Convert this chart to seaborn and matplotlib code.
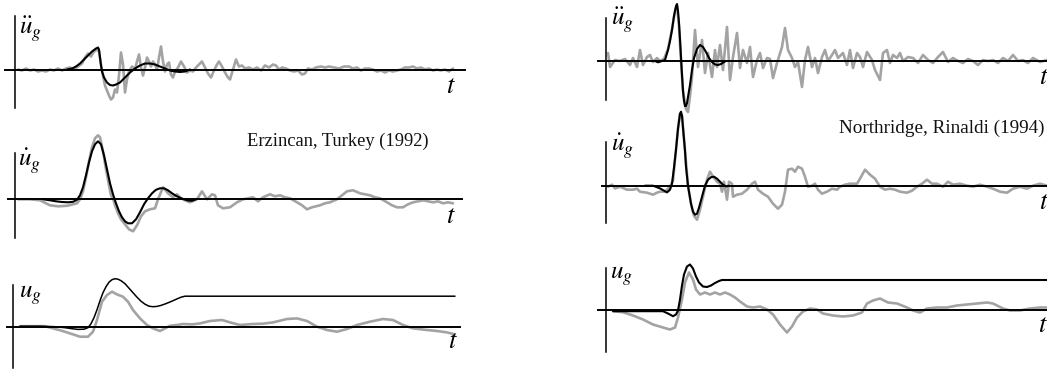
import numpy as np
import matplotlib
matplotlib.use("Agg")
import matplotlib.pyplot as plt
import seaborn as sns

# ---------------- data (time / amplitude, arbitrary units) ----------------
# Erzincan, Turkey (1992)
erz_acc_rec_t = [3, 7, 11, 15, 19, 23, 27, 31, 35, 39, 43, 47, 51, 55, 59, 63, 67, 70, 73, 76,
                 79, 82, 84, 86, 88, 90, 92, 94, 96, 98, 100, 102, 104, 106, 108, 110, 112, 114, 117, 120,
                 122, 124, 126, 128, 130, 132, 134, 136, 138, 140, 142, 144, 146, 148, 150, 152, 154, 156, 158, 160,
                 163, 166, 169, 172, 175, 178, 181, 184, 187, 190, 193, 196, 199, 202, 204, 207, 210, 213, 215, 218,
                 221, 224, 227, 230, 234, 238, 242, 246, 250, 254, 258, 261, 264, 267, 271, 275, 279, 283, 287, 290,
                 293, 297, 301, 306, 310, 314, 319, 324, 329, 334, 338, 342, 346, 350, 354, 358, 362, 366, 370, 374,
                 378, 382, 386, 390, 394, 398, 402, 406, 410, 414, 418, 422, 426, 430, 434, 438]
erz_acc_rec_v = [0, -1, 1, -1, 0, -2, -1, -2, 0, -1, 1, -1, 1, 2, 0, 3, 6, 12, 16, 13,
                 18, 20, 18, 5, -6, -16, -21, -26, -30, -28, -20, -23, -6, 17, 5, -23, -10, -2, 3, 0,
                 8, 15, 2, -6, 2, 12, 8, 3, 8, 5, 0, 12, 23, 8, -2, 5, 7, -5, -8, -2,
                 2, 8, 3, -3, -1, -2, 2, 5, 8, 2, -4, -8, -1, 5, 8, 3, -3, -8, -10, 0,
                 10, 3, 4, 1, 2, 0, 2, -1, 4, 2, 5, 4, 0, 2, 1, -1, -2, -1, -5, -4,
                 1, 0, 2, 3, 2, 3, 2, 1, 3, 3, 1, 2, -1, 1, 1, 0, -2, -1, -3, -1,
                 -2, -1, 0, 2, 2, 3, 1, 2, 0, 1, -1, 0, -1, 0, -2, 1]
erz_acc_pulse_t = [52, 57, 61, 65, 69, 73, 77, 81, 83, 84, 85, 86, 87, 89, 92, 95, 98, 101, 105, 110,
                   115, 120, 125, 130, 135, 140, 145, 150, 155, 160, 165, 170, 175]
erz_acc_pulse_v = [0, 1, 3, 6, 10, 14, 18, 21, 22, 20, 12, 4, -2, -8, -13, -15.5, -16, -15, -13, -8,
                   -3, 1, 4, 6, 6, 5, 3, 1, -1, -2, -2.5, -2, 0]

erz_vel_rec_t = [3, 15, 25, 35, 43, 52, 62, 65, 68, 71, 74, 77, 80, 83, 85, 88, 91, 94, 96, 98,
                 100, 103, 106, 110, 114, 118, 122, 126, 130, 135, 140, 143, 148, 153, 158, 162, 166, 170, 175, 182,
                 187, 192, 197, 200, 203, 208, 215, 222, 228, 233, 238, 243, 248, 255, 260, 265, 270, 275, 282, 287,
                 292, 297, 305, 310, 315, 322, 327, 332, 338, 345, 350, 355, 360, 365, 372, 377, 382, 388, 393, 398,
                 403, 408, 413, 418, 423, 428, 433, 438]
erz_vel_rec_v = [0, 0, -1, -6, -7, -6.5, -4, 0, 8, 22, 38, 52, 61, 64, 62, 48, 30, 14, 4, 1,
                 -6, -14, -20, -25, -30, -32, -26, -17, -12, -10, -9, 0, 12, 6, 2, 5, 1, -1, -3, 0,
                 8, 0, 5, 4, -6, -9, -8, -3, 0, 1, 2, -2, 2, 5, 3, 4, 2, 1, -3, -6,
                 -10, -8, -6, -4, -3, 0, 4, 8, 9, 6, 5, 4, 2, 1, -3, -6, -8, -8, -5, -3,
                 -2, -1, -2, -3, -2, -4, -3, -4]
erz_vel_pulse_t = [28, 35, 41, 47, 53, 58, 62, 65, 68, 71, 74, 77, 80, 83, 86, 89, 92, 95, 98, 101,
                   104, 107, 110, 113, 117, 121, 125, 129, 133, 137, 141, 145, 149, 153, 157, 161, 165, 169, 173, 177,
                   181]
erz_vel_pulse_v = [0, -1, -2, -2.7, -3, -2.5, -0.5, 4, 12, 24, 37, 48, 55, 58, 55, 44, 30, 16, 5, -4,
                   -12, -18, -22, -24, -24, -20, -13, -5, 1, 6, 9.5, 11, 11, 9, 6, 3.5, 1.5, 0, -1.2, -1.5,
                   0]

erz_dis_rec_t = [7, 32, 40, 47, 54, 61, 67, 75, 80, 84, 89, 94, 99, 104, 110, 115, 120, 127, 134, 140,
                 147, 152, 157, 164, 170, 179, 187, 197, 209, 217, 227, 240, 250, 260, 274, 284, 294, 304, 314, 324,
                 334, 344, 357, 370, 380, 390, 400, 414, 424, 434, 442]
erz_dis_rec_v = [0.5, 0.5, -1.7, -3.5, -5.7, -8, -10, -10, -5, 6.7, 25, 31.7, 35, 32.3, 30, 25, 16.7, 8.3, 1.7, -1.7,
                 -4.3, -1.7, 1, 1.7, 2.7, 2.3, 3.3, 5.7, 6.7, 4.3, 1.7, 2.7, 3, 4.3, 7.7, 8.3, 5.7, 0, -3.3, -5,
                 -2.3, 1.7, 5, 7.7, 6.7, 1.7, -1.7, -3.3, -4.3, -5.7, -7.7]
erz_dis_pulse_t = [7, 27, 42, 52, 59, 65, 71, 75, 78, 81, 84, 87, 90, 93, 96, 99, 102, 105, 108, 112,
                   116, 120, 124, 128, 132, 136, 140, 144, 148, 152, 156, 160, 164, 168, 172, 442]
erz_dis_pulse_v = [0.5, 0.5, 0, -1, -2, -2.7, -2.5, -1, 3, 9, 17, 26, 34, 40, 44.5, 47, 48, 47.5, 46, 43,
                   38.5, 34, 29.5, 25.5, 22.5, 20.5, 20, 20.3, 21.3, 22.7, 24.3, 26, 27.8, 29.5, 30.5, 30.5]

# Northridge, Rinaldi (1994)
nor_acc_rec_t = [2, 4, 9, 14, 19, 24, 27, 31, 34, 37, 41, 44, 47, 51, 54, 58, 62, 66, 69, 71,
                 73, 75, 77, 80, 82, 84, 86, 89, 92, 96, 99, 102, 106, 109, 111, 114, 117, 121, 124, 127,
                 131, 134, 137, 141, 144, 147, 151, 154, 157, 161, 164, 167, 171, 176, 179, 182, 186, 189, 192, 196,
                 199, 202, 206, 209, 212, 216, 219, 222, 226, 229, 232, 237, 241, 244, 247, 251, 254, 257, 261, 266,
                 269, 274, 277, 281, 284, 287, 291, 294, 297, 302, 307, 312, 317, 322, 327, 332, 337, 342, 347, 352,
                 357, 362, 367, 372, 377, 382, 387, 392, 397, 402, 407, 412, 417, 422, 427, 434, 441, 449]
nor_acc_rec_v = [8, -6, 1, 0, 2, -4, 3, -6, 11, -4, 4, 6, -1, 3, 0, 2, 12, 32, 50, 55,
                 35, 0, -30, -48, -51, -35, -16, 31, -6, 21, -12, 8, -16, 11, -6, 16, -9, 34, -19, 4,
                 28, -7, 11, -2, 14, -16, 1, 8, -7, 3, 2, -17, -2, 14, 33, 11, 3, -6, -1, -26,
                 1, 14, -6, 3, -12, 4, 11, 0, 6, 11, 3, 8, -4, 11, -7, 8, 4, -6, 9, 1,
                 -9, -19, 8, 11, -2, 6, 3, 8, 0, 4, 3, -2, 6, 1, -2, 4, 9, -1, 3, 0,
                 -2, 2, 0, -4, 1, 0, 1, -2, 3, 0, 6, 0, 1, -2, 3, -1, 1, 0]
nor_acc_pulse_t = [49, 52, 56, 59, 62, 64, 66, 68, 70, 71, 72, 73, 74, 75, 76, 77, 78, 79, 80, 81,
                   82, 84, 86, 88, 91, 94, 97, 100, 103, 106, 109, 112, 115, 118, 120]
nor_acc_pulse_v = [0, -1.3, 0, 1, 11, 20, 31, 45, 55, 57, 50, 38, 22, 4, -14, -30, -40, -45, -45, -42,
                   -36, -24, -9, 3, 12, 16, 14, 9, 3, -1, -3.5, -4, -3, -1, 0]

nor_vel_rec_t = [2, 6, 9, 14, 21, 27, 31, 34, 41, 47, 51, 54, 59, 64, 67, 70, 72, 74, 76, 79,
                 82, 85, 88, 91, 94, 97, 101, 104, 107, 111, 114, 116, 118, 121, 123, 126, 127, 131, 136, 141,
                 146, 149, 152, 157, 162, 167, 172, 176, 179, 182, 186, 189, 192, 196, 199, 202, 206, 209, 212, 216,
                 221, 226, 231, 234, 239, 244, 251, 254, 259, 264, 269, 274, 279, 284, 289, 294, 301, 306, 311, 316,
                 321, 326, 331, 337, 342, 347, 354, 361, 367, 374, 381, 387, 394, 401, 407, 414, 421, 427, 434, 441,
                 449]
nor_vel_rec_v = [-1, 1, -2.7, -1, -4, -4, -3, -6, -7, -9, -7, -6, -6, -1, 5, 36, 57, 72, 70, 35,
                 0, -18, -30, -34, -24, -11, 6, 14, 9, 4, 2, -6, 4, -14, 4, 2, -11, -9, -8, -4,
                 2, 4, -4, -8, -11, -18, -23, -19, -6, 16, 17, 14, 19, 17, 9, -1, 0, 2, -4, -8,
                 -6, -3, -4, -1, 1, 2, 2, 7, 16, 11, 7, -1, -4, -3, -4, -6, -7, -5, -1, 2,
                 6, 2, 2, -1, 4, 1, 2, 0, -1, 1, -1, -3, -6, -7, -3, -1, -3, 0, 2, 0,
                 0]
nor_vel_pulse_t = [39, 47, 54, 58, 61, 64, 66, 68, 70, 72, 74, 75, 76, 77, 79, 80, 82, 84, 85, 87,
                   89, 91, 93, 96, 99, 102, 105, 108, 111, 114, 117, 120, 123]
nor_vel_pulse_v = [0, 0, -2.7, -5, -6.7, -4, 2, 18, 36, 57, 72, 74, 70, 58, 35, 19, 0, -12, -18, -26,
                   -29, -28, -22, -11, 0, 6, 8.5, 9, 7, 4, 1, -0.8, 0]

nor_dis_rec_t = [7, 17, 27, 37, 47, 57, 64, 69, 72, 76, 79, 83, 87, 90, 94, 99, 104, 109, 114, 119,
                 124, 129, 134, 141, 147, 154, 161, 167, 174, 181, 186, 191, 197, 204, 211, 217, 227, 237, 247, 256,
                 261, 267, 274, 282, 291, 301, 307, 314, 321, 331, 341, 351, 361, 371, 381, 387, 397, 404, 414, 424,
                 434, 441, 449]
nor_dis_rec_v = [-1.7, -2.7, -6, -10, -15, -18, -20, -18, -8, 10, 27, 37, 30, 20, 15, 17, 15, 17, 15, 17,
                 15, 12, 8, 3, 2, 3, 0, -5, -15, -23, -17, -8, -2, 1, 0, -4, -6, -7, -6, -3,
                 6, 9, 11, 7, 6, 2, -1, -3, 1, 2, 2, 4, 5, 6, 7, 6, 1, -1, -1, 1,
                 2, 2, 1]
nor_dis_pulse_t = [7, 57, 62, 67, 70, 72, 74, 76, 78, 81, 84, 87, 90, 93, 97, 101, 105, 109, 113, 116,
                   454]
nor_dis_pulse_v = [-1.7, -1.7, -4, -6.7, -5, -1, 10, 24, 35, 43, 45, 41, 33, 27, 23, 22.5, 24, 26.5, 28.5, 29.5,
                   29.5]

quantity_labels = [r"$\ddot{u}_g$", r"$\dot{u}_g$", r"$u_g$"]
time_label = r"$t$"
event_names = ["Erzincan, Turkey (1992)", "Northridge, Rinaldi (1994)"]

# ---------------- figure ----------------
W, H = 1047, 371
sns.set_style("white")
plt.rcParams["mathtext.fontset"] = "stix"
plt.rcParams["font.family"] = ["Liberation Serif", "DejaVu Serif"]

fig = plt.figure(figsize=(W / 100, H / 100), dpi=100)
fig.patch.set_facecolor("white")

REC_COLOR = "#a3a3a3"
PULSE_COLOR = "black"


def make_panel(left, right, top, bottom, ox, oy):
    """Axes in pixel placement; the axis cross sits at data (0, 0)."""
    ax = fig.add_axes([left / W, 1 - bottom / H, (right - left) / W, (bottom - top) / H])
    ax.set_xlim(left - ox, right - ox)
    ax.set_ylim(oy - bottom, oy - top)
    ax.patch.set_alpha(0)
    for side in ("top", "right"):
        ax.spines[side].set_visible(False)
    ax.spines["left"].set_position(("data", 0))
    ax.spines["bottom"].set_position(("data", 0))
    ax.spines["left"].set_linewidth(1.1)
    ax.spines["bottom"].set_linewidth(1.4)
    ax.spines["left"].set_color("black")
    ax.spines["bottom"].set_color("black")
    ax.spines["left"].set_zorder(4)
    ax.spines["bottom"].set_zorder(4)
    ax.set_xticks([])
    ax.set_yticks([])
    ax.set_xlabel("")
    ax.set_ylabel("")
    return ax


def draw(ax, rec_t, rec_v, pulse_t, pulse_v, pulse_lw=1.5):
    sns.lineplot(x=rec_t, y=rec_v, ax=ax, color=REC_COLOR, lw=1.9, estimator=None,
                 sort=False, clip_on=False, zorder=2)
    sns.lineplot(x=pulse_t, y=pulse_v, ax=ax, color=PULSE_COLOR, lw=pulse_lw, estimator=None,
                 sort=False, clip_on=False, zorder=5)
    ax.set_xlabel("")
    ax.set_ylabel("")


def ftext(x, y, s, **kw):
    fig.text(x / W, 1 - y / H, s, **kw)


# left column: Erzincan
axL1 = make_panel(5, 465, 16, 108, 15, 69.5)
draw(axL1, erz_acc_rec_t, erz_acc_rec_v, erz_acc_pulse_t, erz_acc_pulse_v)
axL2 = make_panel(8, 462, 153, 238, 15, 199.3)
draw(axL2, erz_vel_rec_t, erz_vel_rec_v, erz_vel_pulse_t, erz_vel_pulse_v)
axL3 = make_panel(7, 460, 285, 368, 13, 326.7)
draw(axL3, erz_dis_rec_t, erz_dis_rec_v, erz_dis_pulse_t, erz_dis_pulse_v, pulse_lw=1.1)

# right column: Northridge
axR1 = make_panel(598, 1060, 18, 100, 606, 61)
draw(axR1, nor_acc_rec_t, nor_acc_rec_v, nor_acc_pulse_t, nor_acc_pulse_v)
axR2 = make_panel(602, 1060, 142, 223, 606, 185.7)
draw(axR2, nor_vel_rec_t, nor_vel_rec_v, nor_vel_pulse_t, nor_vel_pulse_v)
axR3 = make_panel(598, 1060, 268, 352, 606, 309.5)
draw(axR3, nor_dis_rec_t, nor_dis_rec_v, nor_dis_pulse_t, nor_dis_pulse_v)

# quantity labels beside the vertical axes
LBL = dict(fontsize=18, ha="left", va="baseline", color="black")
ftext(19, 35, quantity_labels[0], **LBL)
ftext(18, 167, quantity_labels[1], **LBL)
ftext(19, 298, quantity_labels[2], **LBL)
ftext(611, 26, quantity_labels[0], **LBL)
ftext(611, 152, quantity_labels[1], **LBL)
ftext(610, 279, quantity_labels[2], **LBL)

# time labels under the horizontal axes
TL = dict(fontsize=19, ha="center", va="baseline", color="black")
ftext(451, 93, time_label, **TL)
ftext(451, 223, time_label, **TL)
ftext(453, 348, time_label, **TL)
ftext(1044, 84, time_label, **TL)
ftext(1044, 209, time_label, **TL)
ftext(1043, 332, time_label, **TL)

# event captions
ftext(247, 146, event_names[0], fontsize=13.3, ha="left", va="baseline", color="#111111")
ftext(839, 133, event_names[1], fontsize=13.8, ha="left", va="baseline", color="#111111")

fig.savefig("out.png", dpi=100, facecolor="white")
